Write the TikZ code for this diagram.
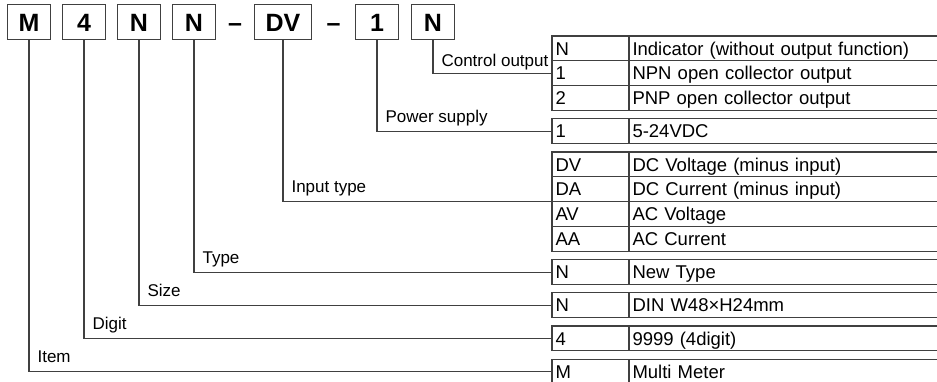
\documentclass[tikz,border=0pt]{standalone}
\usepackage{fontspec}
\setmainfont{Liberation Sans}
\usetikzlibrary{positioning,calc}

\begin{document}
\begin{tikzpicture}[x=1pt,y=-1pt,thin]
\tikzstyle{codebox}=[draw=black!75,line width=1.1pt,outer sep=0pt,minimum width=43pt,minimum height=34.5pt,inner sep=0pt,text height=18pt,text depth=0pt,font=\fontsize{25}{25}\selectfont\bfseries]
\tikzstyle{sepbar}=[inner sep=0pt,text height=18pt,text depth=0pt,font=\fontsize{25}{25}\selectfont\bfseries]
\tikzstyle{keycell}=[draw=black!75,line width=1.1pt,outer sep=0pt,minimum height=24.9pt,inner xsep=3.5pt,inner ysep=0pt,text width=70pt,align=left,text height=13.2pt,text depth=0pt,font=\fontsize{18.5}{18.5}\selectfont]
\tikzstyle{desccell}=[keycell,text width=304pt]
\tikzstyle{lbl}=[inner sep=0pt,anchor=base west,xshift=8pt,yshift=9pt,font=\fontsize{17}{17}\selectfont]
\tikzstyle{link}=[draw=black!75,line width=1.1pt]

\useasboundingbox (0,0) rectangle (937,382);
\clip (0,0) rectangle (937,382);

\node[codebox] (bM) at (29,22.2) {M};
\node[codebox] (b4) [right=12pt of bM] {4};
\node[codebox] (bN) [right=12pt of b4] {N};
\node[codebox] (bN2) [right=12pt of bN] {N};
\node[codebox] (bDV) [right=39pt of bN2,minimum width=57pt] {DV};
\node[codebox] (b1) [right=44pt of bDV] {1};
\node[codebox] (bN3) [right=13pt of b1] {N};
\node[sepbar] (s1) at ($(bN2.east)!0.5!(bDV.west)$) {--};
\node[sepbar] (s2) at ($(bDV.east)!0.5!(b1.west)$) {--};

\node[keycell] (kN) at (590.5,48.45) {N};
\node[desccell] (dN) [right=0pt of kN] {Indicator (without output function)};
\node[keycell] (k1) [below=0pt of kN] {1};
\node[desccell] (d1) [right=0pt of k1] {NPN open collector output};
\node[keycell] (k2) [below=0pt of k1] {2};
\node[desccell] (d2) [right=0pt of k2] {PNP open collector output};

\node[keycell] (kP) [below=8.2pt of k2] {1};
\node[desccell] (dP) [right=0pt of kP] {5-24VDC};

\node[keycell] (kDV) [below=8.2pt of kP] {DV};
\node[desccell] (dDV) [right=0pt of kDV] {DC Voltage (minus input)};
\node[keycell] (kDA) [below=0pt of kDV] {DA};
\node[desccell] (dDA) [right=0pt of kDA] {DC Current (minus input)};
\node[keycell] (kAV) [below=0pt of kDA] {AV};
\node[desccell] (dAV) [right=0pt of kAV] {AC Voltage};
\node[keycell] (kAA) [below=0pt of kAV] {AA};
\node[desccell] (dAA) [right=0pt of kAA] {AC Current};

\node[keycell] (kT) [below=8.2pt of kAA] {N};
\node[desccell] (dT) [right=0pt of kT] {New Type};

\node[keycell] (kS) [below=8.2pt of kT] {N};
\node[desccell] (dS) [right=0pt of kS] {DIN W48×H24mm};

\node[keycell] (kD) [below=8.2pt of kS] {4};
\node[desccell] (dD) [right=0pt of kD] {9999 (4digit)};

\node[keycell] (kI) [below=8.2pt of kD] {M};
\node[desccell] (dI) [right=0pt of kI] {Multi Meter};

\draw[link] (bN3.south) |- (k1.west) node[lbl,pos=0.5,yshift=-2.5pt] {Control output};
\draw[link] (b1.south) |- (kP.west) node[lbl,pos=0.5] {Power supply};
\draw[link] (bDV.south) |- (kDA.south west) node[lbl,pos=0.5] {Input type};
\draw[link] (bN2.south) |- (kT.west) node[lbl,pos=0.5] {Type};
\draw[link] (bN.south) |- (kS.west) node[lbl,pos=0.5] {Size};
\draw[link] (b4.south) |- (kD.west) node[lbl,pos=0.5] {Digit};
\draw[link] (bM.south) |- (kI.west) node[lbl,pos=0.5] {Item};
\end{tikzpicture}
\end{document}
